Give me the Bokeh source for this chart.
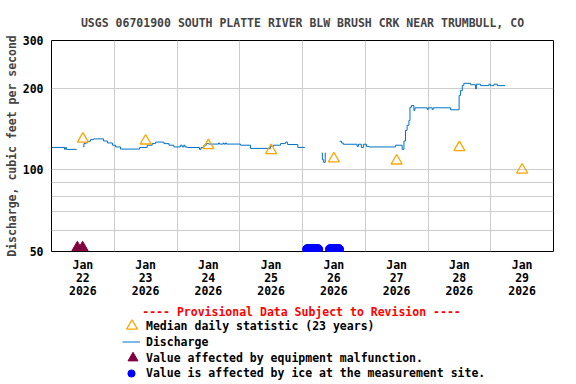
from bokeh.plotting import figure
from bokeh.models import Range1d, FixedTicker, Legend, LegendItem, Label, ColumnDataSource
from bokeh.layouts import column
from bokeh.embed import file_html
from bokeh.resources import INLINE

FONT = "DejaVu Sans Mono"
FS = "11.5px"

title_text = "USGS 06701900 SOUTH PLATTE RIVER BLW BRUSH CRK NEAR TRUMBULL, CO"
y_label = "Discharge, cubic feet per second"
provisional_text = "---- Provisional Data Subject to Revision ----"

# x in hours since 2026-01-22 00:00
tick_hours = [12, 36, 60, 84, 108, 132, 156, 180]
tick_labels = ["Jan\n22\n2026", "Jan\n23\n2026", "Jan\n24\n2026", "Jan\n25\n2026",
               "Jan\n26\n2026", "Jan\n27\n2026", "Jan\n28\n2026", "Jan\n29\n2026"]
grid_hours = [24, 48, 72, 96, 120, 144, 168]
y_ticks = [50, 100, 200, 300]
y_tick_labels = ["50", "100", "200", "300"]
y_grid = [60, 70, 80, 90, 100, 200]

median_hours = [12, 36, 60, 84, 108, 132, 156, 180]
median_values = [130, 128, 123, 118, 110, 108, 121, 100]

q1_hours = [0.0, 5.0, 5.3, 5.7, 9.6]
q1_values = [121, 119, 121, 119, 119]

q2_hours = [12.2, 12.4, 13.0, 13.8, 14.9, 16.1, 19.9, 21.4, 23.3, 24.5, 26.4, 33.7,
            36.6, 38.5, 39.8, 43.0, 44.9, 46.8, 49.3, 50.0, 50.6, 51.0, 51.9, 56.6,
            57.2, 58.3, 59.2, 60.1, 63.9, 64.2, 65.7, 66.0, 66.6, 66.9, 72.3, 76.1,
            83.8, 84.9, 87.6, 89.5, 90.3, 94.2, 96.9]
q2_values = [121.5, 125, 125.7, 127.5, 129.3, 130.1, 127.8, 125.7, 123.3, 121.5, 119.3, 121,
             123.3, 125, 126.6, 125, 123.3, 121.5, 123.3, 121.5, 123.3, 121.5, 120.9, 119,
             120.9, 123.3, 125, 124.5, 125.7, 124.5, 125.7, 124.5, 125.7, 124.5, 123.3, 120,
             122.3, 123.3, 125, 126.6, 124, 121, 121]

q3_hours = [103.4, 103.6, 104.1, 104.7, 104.8]
q3_values = [115.5, 109, 106.6, 115.5, 115.5]

q4_hours = [110.2, 110.9, 111.6, 116.9, 117.4, 118.5, 119.3, 120.5, 121.4, 131.6, 134.1,
            134.8, 135.4, 136.0, 136.7, 137.1, 137.7, 138.6, 139.0, 143.7, 144.1, 145.6,
            146.0, 152.6, 155.9, 156.4, 157.1, 157.7, 160.3, 162.2, 162.5, 164.1, 167.3,
            167.9, 169.2, 170.5, 173.5]
q4_values = [127.5, 125.7, 124.3, 122, 124.3, 121, 124.3, 122, 121.5, 123.3, 119,
             127.8, 139.9, 146, 152, 170.3, 172.7, 165.7, 169.4, 167, 169.4, 167,
             169.4, 166.6, 188, 196, 204.5, 208.5, 206, 199, 207, 204.5, 207,
             204.5, 207, 204.5, 204.5]

malfunction_hours = [9.9, 11.9]
malfunction_values = [51.7, 51.7]

ice_hours = [97.75, 98.0, 98.25, 98.5, 98.75, 99.0, 99.25, 99.5, 99.75, 100.0, 100.25,
             100.5, 100.75, 101.0, 101.25, 101.5, 101.75, 102.0,
             106.5, 106.75, 107.0, 107.25, 107.5, 107.75, 108.0, 108.25, 108.5, 108.75,
             109.0, 109.25, 109.5, 109.75, 110.0]
ice_values = [51] * len(ice_hours)

legend_labels = ["Median daily statistic (23 years)", "Discharge",
                 "Value affected by equipment malfunction.",
                 "Value is affected by ice at the measurement site."]

C_LINE = "#0072C6"
C_MED = "#FFA500"
C_MAL = "#800040"
C_ICE = "#0000FF"
C_GRID = "#CCCCCC"

src_med = ColumnDataSource(dict(x=median_hours, y=median_values))
src_mal = ColumnDataSource(dict(x=malfunction_hours, y=malfunction_values))
src_ice = ColumnDataSource(dict(x=ice_hours, y=ice_values))
src_q = [ColumnDataSource(dict(x=h, y=v)) for h, v in
         ((q1_hours, q1_values), (q2_hours, q2_values),
          (q3_hours, q3_values), (q4_hours, q4_values))]

# ---------------- main chart ----------------
HA = 300
p = figure(width=576, height=HA, x_range=Range1d(0, 192), y_range=Range1d(50, 300),
           y_axis_type="log", output_backend="svg", toolbar_location=None,
           min_border_left=51, min_border_right=23, min_border_top=40, min_border_bottom=48,
           title=title_text)
p.title.align = "center"
p.title.text_font = FONT
p.title.text_font_size = FS
p.title.text_font_style = "bold"
p.title.standoff = 21

p.outline_line_color = "black"
p.outline_line_width = 1

p.xaxis.ticker = FixedTicker(ticks=tick_hours, minor_ticks=[])
p.xaxis.major_label_overrides = dict(zip(tick_hours, tick_labels))
p.yaxis.ticker = FixedTicker(ticks=y_ticks, minor_ticks=[])
p.yaxis.major_label_overrides = dict(zip(y_ticks, y_tick_labels))
p.xaxis.major_label_standoff = 6
p.yaxis.major_label_standoff = 8
p.xaxis.major_label_text_line_height = 0.94
for ax in (p.xaxis, p.yaxis):
    ax.axis_line_color = None
    ax.major_tick_line_color = None
    ax.minor_tick_line_color = None
    ax.major_tick_out = 0
    ax.major_tick_in = 0
    ax.minor_tick_out = 0
    ax.minor_tick_in = 0
    ax.major_label_text_font = FONT
    ax.major_label_text_font_size = FS
    ax.major_label_text_font_style = "bold"
    ax.major_label_text_color = "black"
p.yaxis.axis_label = y_label
p.yaxis.axis_label_text_font = FONT
p.yaxis.axis_label_text_font_size = FS
p.yaxis.axis_label_text_font_style = "bold"
p.yaxis.axis_label_standoff = 1

p.xgrid.ticker = FixedTicker(ticks=grid_hours, minor_ticks=[])
p.ygrid.ticker = FixedTicker(ticks=y_grid, minor_ticks=[])
p.grid.grid_line_color = C_GRID
p.grid.grid_line_width = 1

for s in src_q:
    p.step("x", "y", source=s, mode="after", line_color=C_LINE, line_width=1)
p.scatter("x", "y", source=src_med, marker="triangle", size=11,
          fill_color=None, line_color=C_MED, line_width=1.3)
p.scatter("x", "y", source=src_mal, marker="triangle", size=11,
          fill_color=C_MAL, line_color=C_MAL)
p.scatter("x", "y", source=src_ice, marker="circle", size=9,
          fill_color=C_ICE, line_color=C_ICE)

# ---------------- legend panel (screen-pixel ranges) ----------------
HB = 384 - HA
q = figure(width=576, height=HB, x_range=Range1d(51, 553), y_range=Range1d(384, HA),
           output_backend="svg", toolbar_location=None,
           min_border_left=51, min_border_right=23, min_border_top=0, min_border_bottom=0,
           x_axis_location=None, y_axis_location=None)
q.outline_line_color = None
q.grid.visible = False

q.add_layout(Label(x=301, y=311, text=provisional_text, text_color="#FF0000",
                   text_font=FONT, text_font_size=FS, text_font_style="bold",
                   text_align="center", text_baseline="middle"))

# the same series (outside this panel's ranges) so the legend keys use their styles
k_med = q.scatter("x", "y", source=src_med, marker="triangle",
                  fill_color=None, line_color=C_MED, line_width=1.3)
k_line = q.line("x", "y", source=src_q[1], line_color=C_LINE, line_width=1)
k_mal = q.scatter("x", "y", source=src_mal, marker="triangle",
                  fill_color=C_MAL, line_color=C_MAL)
k_ice = q.scatter("x", "y", source=src_ice, marker="circle",
                  fill_color=C_ICE, line_color=C_ICE)


def make_legend(label, renderer, gw, gh, standoff, loc):
    lg = Legend(items=[LegendItem(label=label, renderers=[renderer])], location=loc,
                glyph_width=gw, glyph_height=gh, label_height=gh, label_standoff=standoff,
                padding=0, margin=0, spacing=0, border_line_color=None,
                background_fill_alpha=0, label_text_font=FONT, label_text_font_size=FS,
                label_text_font_style="bold", label_text_color="black")
    q.add_layout(lg)


make_legend(legend_labels[0], k_med, 27, 27, 1, (67, 45))
make_legend(legend_labels[1], k_line, 18, 15, 6, (71, 35))
make_legend(legend_labels[2], k_mal, 25, 25, 1, (69, 14))
make_legend(legend_labels[3], k_ice, 18, 18, 6, (71, 2))

open("out.html", "w").write(file_html(column(p, q, spacing=0), INLINE))
